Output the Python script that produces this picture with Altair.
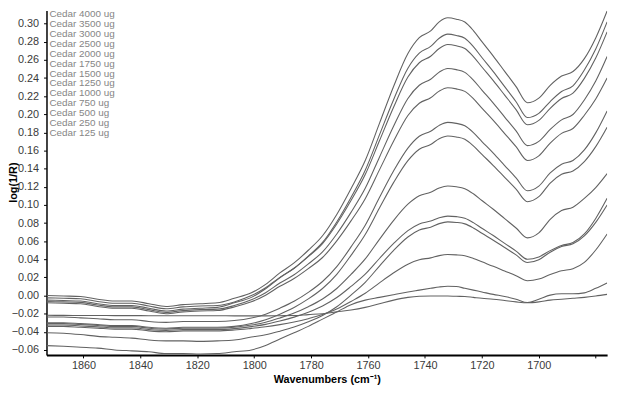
import altair as alt
import pandas as pd

wavenumbers = [1873, 1867, 1861, 1855, 1849, 1843, 1837, 1831, 1825, 1819, 1813, 1807,
               1801, 1796, 1791, 1786, 1781, 1776, 1771, 1766, 1761, 1756, 1751, 1746,
               1742, 1738, 1735, 1732, 1729, 1726, 1723, 1720, 1716, 1712, 1708, 1704,
               1700, 1696, 1692, 1688, 1684, 1680, 1676]

labels = ["Cedar 4000 ug", "Cedar 3500 ug", "Cedar 3000 ug", "Cedar 2500 ug",
          "Cedar 2000 ug", "Cedar 1750 ug", "Cedar 1500 ug", "Cedar 1250 ug",
          "Cedar 1000 ug", "Cedar 750 ug", "Cedar 500 ug", "Cedar 250 ug", "Cedar 125 ug"]

c4000 = [0.000, -0.0005, -0.001, -0.004, -0.006, -0.006, -0.009, -0.012, -0.010, -0.009, -0.008, -0.003,
         0.003, 0.0124, 0.025, 0.036, 0.050, 0.066, 0.0895, 0.118, 0.149, 0.190, 0.231, 0.267,
         0.2845, 0.292, 0.302, 0.3065, 0.305, 0.3018, 0.2924, 0.2802, 0.2643, 0.2474, 0.2305, 0.2127,
         0.2178, 0.2319, 0.2422, 0.2472, 0.2614, 0.2843, 0.314]
c3500 = [-0.005, -0.0055, -0.006, -0.009, -0.011, -0.011, -0.014, -0.017, -0.015, -0.014, -0.013, -0.008,
         -0.002, 0.0075, 0.0196, 0.0301, 0.0436, 0.0586, 0.0812, 0.1082, 0.1383, 0.1773, 0.2164, 0.2509,
         0.2675, 0.275, 0.284, 0.2885, 0.287, 0.2839, 0.2747, 0.2627, 0.2471, 0.2305, 0.2139, 0.1964,
         0.2011, 0.2141, 0.2251, 0.2315, 0.2489, 0.2721, 0.302]
c3000 = [-0.0025, -0.003, -0.0035, -0.0065, -0.0085, -0.0085, -0.0115, -0.0145, -0.0125, -0.0115, -0.011, -0.007,
         0.000, 0.0087, 0.0201, 0.0302, 0.0431, 0.0574, 0.079, 0.1048, 0.1335, 0.1708, 0.2081, 0.2411,
         0.2569, 0.2641, 0.2727, 0.277, 0.2756, 0.2726, 0.2637, 0.2522, 0.2371, 0.2212, 0.2052, 0.1884,
         0.1933, 0.2066, 0.2174, 0.2234, 0.2397, 0.2621, 0.291]
c2500 = [-0.0065, -0.007, -0.0075, -0.0105, -0.0125, -0.0125, -0.0155, -0.0185, -0.0165, -0.0155, -0.015, -0.011,
         -0.0047, 0.0032, 0.0138, 0.023, 0.035, 0.0482, 0.068, 0.0918, 0.1183, 0.1527, 0.1871, 0.2175,
         0.2321, 0.2387, 0.2466, 0.2506, 0.2493, 0.2463, 0.2378, 0.2268, 0.2123, 0.197, 0.1817, 0.1655,
         0.1702, 0.1833, 0.1939, 0.1998, 0.2158, 0.2367, 0.2637]
c2000 = [-0.008, -0.0085, -0.009, -0.012, -0.014, -0.014, -0.017, -0.020, -0.018, -0.017, -0.0165, -0.0125,
         -0.0069, 0.0004, 0.0102, 0.0188, 0.0298, 0.042, 0.0604, 0.0824, 0.1069, 0.1387, 0.1705, 0.1987,
         0.2122, 0.2183, 0.2256, 0.2293, 0.2281, 0.2253, 0.2173, 0.2068, 0.1932, 0.1788, 0.1643, 0.1491,
         0.1542, 0.1682, 0.1790, 0.1844, 0.1990, 0.2169, 0.240]
c1750 = [-0.0236, -0.0236, -0.0246, -0.0256, -0.0266, -0.0266, -0.0286, -0.0296, -0.0286, -0.0286, -0.0286, -0.0276,
         -0.0248, -0.0205, -0.0139, -0.0063, 0.0035, 0.0155, 0.0319, 0.0537, 0.0777, 0.1082, 0.1377, 0.1627,
         0.1758, 0.1813, 0.1878, 0.1911, 0.190, 0.1873, 0.1798, 0.170, 0.1571, 0.1435, 0.1299, 0.1156,
         0.1208, 0.1353, 0.1450, 0.1491, 0.1607, 0.1795, 0.2037]
c1500 = [-0.030, -0.030, -0.031, -0.032, -0.033, -0.033, -0.035, -0.036, -0.035, -0.035, -0.035, -0.034,
         -0.0309, -0.0267, -0.0205, -0.0131, -0.0037, 0.0078, 0.0235, 0.0444, 0.0674, 0.0966, 0.1249, 0.1489,
         0.1615, 0.1667, 0.173, 0.1761, 0.175, 0.1725, 0.1652, 0.1558, 0.1435, 0.1304, 0.1174, 0.1036,
         0.1091, 0.1242, 0.1339, 0.1375, 0.1479, 0.1644, 0.1858]
c1250 = [-0.031, -0.031, -0.032, -0.033, -0.034, -0.034, -0.036, -0.037, -0.036, -0.036, -0.036, -0.035,
         -0.0325, -0.0294, -0.0247, -0.0193, -0.0123, -0.0038, 0.0078, 0.0233, 0.0404, 0.062, 0.083, 0.1008,
         0.1101, 0.1139, 0.1186, 0.1209, 0.1201, 0.118, 0.1123, 0.1049, 0.0952, 0.0849, 0.0746, 0.0637,
         0.0692, 0.0842, 0.0939, 0.0975, 0.1072, 0.1192, 0.1346]
c1000 = [-0.0325, -0.0325, -0.0335, -0.0345, -0.0355, -0.0355, -0.0375, -0.0385, -0.0375, -0.0375, -0.0375, -0.0365,
         -0.0343, -0.0318, -0.0281, -0.0238, -0.0183, -0.0115, -0.0022, 0.0101, 0.0236, 0.0409, 0.0575, 0.0717,
         0.0791, 0.0822, 0.0859, 0.0877, 0.0871, 0.0853, 0.0805, 0.0743, 0.0662, 0.0576, 0.0491, 0.040,
         0.0426, 0.0496, 0.0553, 0.0585, 0.0680, 0.0851, 0.1073]
c750 = [-0.041, -0.0415, -0.043, -0.045, -0.046, -0.047, -0.049, -0.050, -0.050, -0.0505, -0.050, -0.049,
        -0.0457, -0.0432, -0.0393, -0.0348, -0.029, -0.022, -0.0124, 0.0005, 0.0146, 0.0325, 0.0499, 0.0646,
        0.0723, 0.0755, 0.0794, 0.0813, 0.0807, 0.0791, 0.0746, 0.0687, 0.0611, 0.053, 0.0449, 0.0364,
        0.0395, 0.0479, 0.0541, 0.0571, 0.0659, 0.0808, 0.100]
c500 = [-0.034, -0.034, -0.035, -0.036, -0.037, -0.037, -0.039, -0.040, -0.039, -0.039, -0.039, -0.038,
        -0.0362, -0.0345, -0.0321, -0.0292, -0.0255, -0.021, -0.0148, -0.0065, 0.0025, 0.014, 0.0251, 0.0346,
        0.0395, 0.0416, 0.0441, 0.0453, 0.0449, 0.0439, 0.041, 0.0372, 0.0323, 0.0271, 0.0219, 0.0164,
        0.0182, 0.0232, 0.0273, 0.0296, 0.0366, 0.0503, 0.068]
c250 = [-0.0552, -0.056, -0.057, -0.058, -0.060, -0.061, -0.062, -0.064, -0.064, -0.0645, -0.064, -0.062,
        -0.060, -0.055, -0.048, -0.041, -0.034, -0.026, -0.018, -0.010, -0.005, -0.002, 0.001, 0.004,
        0.006, 0.008, 0.0095, 0.0103, 0.010, 0.008, 0.006, 0.004, 0.0013, -0.001, -0.004, -0.0077,
        -0.004, 0.0005, 0.002, 0.002, 0.003, 0.008, 0.0139]
c125 = [-0.0218, -0.0219, -0.022, -0.022, -0.0221, -0.0221, -0.0222, -0.0222, -0.0223, -0.0223, -0.0223, -0.0224,
        -0.0224, -0.0224, -0.0222, -0.022, -0.021, -0.020, -0.018, -0.016, -0.013, -0.009, -0.005, -0.002,
        -0.0008, -0.0005, -0.0005, -0.0005, -0.0008, -0.001, -0.002, -0.003, -0.004, -0.0055, -0.007, -0.008,
        -0.007, -0.005, -0.004, -0.003, -0.002, -0.0005, 0.0013]

series = [c4000, c3500, c3000, c2500, c2000, c1750, c1500, c1250, c1000, c750, c500, c250, c125]

x_ticks = [1860, 1840, 1820, 1800, 1780, 1760, 1740, 1720, 1700, 1680]
y_ticks = [-0.06, -0.04, -0.02, 0.00, 0.02, 0.04, 0.06, 0.08, 0.10, 0.12, 0.14, 0.16,
           0.18, 0.20, 0.22, 0.24, 0.26, 0.28, 0.30]

rows = []
for lab, vals in zip(labels, series):
    for w, v in zip(wavenumbers, vals):
        rows.append({"wavenumber": w, "value": v, "sample": lab})
df = pd.DataFrame(rows)

FONT = "Liberation Sans"

chart = alt.Chart(df).mark_line(strokeWidth=1.1, clip=True, interpolate="monotone").encode(
    x=alt.X("wavenumber:Q",
            scale=alt.Scale(domain=[1676, 1873], reverse=True, nice=False, zero=False),
            axis=alt.Axis(values=x_ticks, format="d", title="Wavenumbers (cm⁻¹)",
                          labelExpr="datum.value == 1680 ? '' : datum.label",
                          domainWidth=2, labelPadding=2, titlePadding=3)),
    y=alt.Y("value:Q",
            scale=alt.Scale(domain=[-0.0655, 0.3146], nice=False, zero=False),
            axis=alt.Axis(values=y_ticks, format=".2f", title="log(1/R)",
                          domainWidth=1.5, labelPadding=5, titleX=-28, titleY=174)),
    color=alt.Color("sample:N", sort=labels,
                    scale=alt.Scale(domain=labels, range=["#626262"] * 13),
                    legend=alt.Legend(title=None, orient="none", legendX=-7, legendY=-1, padding=0,
                                      symbolType="circle", symbolOpacity=0, symbolSize=1,
                                      symbolStrokeWidth=0, rowPadding=0, labelOffset=0,
                                      labelFont=FONT, labelFontSize=10, labelColor="#858585",
                                      labelLimit=200)),
).properties(
    width=568, height=349,
    autosize=alt.AutoSizeParams(type="none"),
    padding={"left": 39, "top": 0, "right": 9, "bottom": 30},
).configure_view(strokeOpacity=0).configure_axis(
    grid=False, domainColor="black", tickColor="black", tickSize=3, tickWidth=1,
    labelFont=FONT, labelFontSize=11, labelColor="#3a3a3a",
    titleFont=FONT, titleFontSize=11, titleFontWeight="bold", titleColor="black",
)

chart.save("out.html", embed_options={"renderer": "svg", "actions": False})
